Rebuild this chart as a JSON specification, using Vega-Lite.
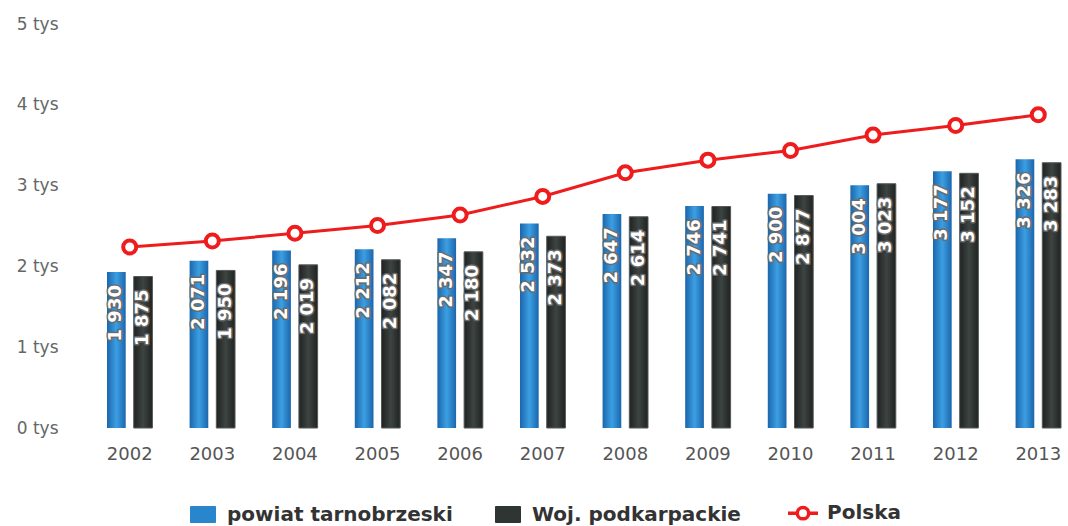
{
  "$schema": "https://vega.github.io/schema/vega-lite/v6.json",
  "width": 954,
  "height": 404,
  "autosize": {"type": "none"},
  "padding": {"left": 107, "top": 24, "right": 7, "bottom": 98},
  "background": "white",
  "config": {
    "view": {"stroke": null},
    "font": "DejaVu Sans",
    "locale": {"number": {"decimal": ",", "thousands": " ", "grouping": [3], "currency": ["", " zł"]}}
  },
  "data": {
    "values": [
      {"year": "2002", "series": "powiat tarnobrzeski", "value": 1930},
      {"year": "2003", "series": "powiat tarnobrzeski", "value": 2071},
      {"year": "2004", "series": "powiat tarnobrzeski", "value": 2196},
      {"year": "2005", "series": "powiat tarnobrzeski", "value": 2212},
      {"year": "2006", "series": "powiat tarnobrzeski", "value": 2347},
      {"year": "2007", "series": "powiat tarnobrzeski", "value": 2532},
      {"year": "2008", "series": "powiat tarnobrzeski", "value": 2647},
      {"year": "2009", "series": "powiat tarnobrzeski", "value": 2746},
      {"year": "2010", "series": "powiat tarnobrzeski", "value": 2900},
      {"year": "2011", "series": "powiat tarnobrzeski", "value": 3004},
      {"year": "2012", "series": "powiat tarnobrzeski", "value": 3177},
      {"year": "2013", "series": "powiat tarnobrzeski", "value": 3326},
      {"year": "2002", "series": "Woj. podkarpackie", "value": 1875},
      {"year": "2003", "series": "Woj. podkarpackie", "value": 1950},
      {"year": "2004", "series": "Woj. podkarpackie", "value": 2019},
      {"year": "2005", "series": "Woj. podkarpackie", "value": 2082},
      {"year": "2006", "series": "Woj. podkarpackie", "value": 2180},
      {"year": "2007", "series": "Woj. podkarpackie", "value": 2373},
      {"year": "2008", "series": "Woj. podkarpackie", "value": 2614},
      {"year": "2009", "series": "Woj. podkarpackie", "value": 2741},
      {"year": "2010", "series": "Woj. podkarpackie", "value": 2877},
      {"year": "2011", "series": "Woj. podkarpackie", "value": 3023},
      {"year": "2012", "series": "Woj. podkarpackie", "value": 3152},
      {"year": "2013", "series": "Woj. podkarpackie", "value": 3283},
      {"year": "2002", "series": "Polska", "value": 2240},
      {"year": "2003", "series": "Polska", "value": 2315},
      {"year": "2004", "series": "Polska", "value": 2410},
      {"year": "2005", "series": "Polska", "value": 2507},
      {"year": "2006", "series": "Polska", "value": 2637},
      {"year": "2007", "series": "Polska", "value": 2866},
      {"year": "2008", "series": "Polska", "value": 3158},
      {"year": "2009", "series": "Polska", "value": 3315},
      {"year": "2010", "series": "Polska", "value": 3435},
      {"year": "2011", "series": "Polska", "value": 3625},
      {"year": "2012", "series": "Polska", "value": 3744},
      {"year": "2013", "series": "Polska", "value": 3877}
    ]
  },
  "encoding": {
    "x": {
      "field": "year",
      "type": "ordinal",
      "scale": {"paddingInner": 0.45, "paddingOuter": 0},
      "axis": {
        "title": null,
        "labelAngle": 0,
        "domain": false,
        "ticks": false,
        "tickSize": 0,
        "grid": false,
        "labelPadding": 17,
        "labelFont": "DejaVu Sans",
        "labelFontSize": 18,
        "labelColor": "#555555"
      }
    },
    "y": {
      "field": "value",
      "type": "quantitative",
      "scale": {"domain": [0, 5000], "nice": false},
      "axis": {
        "title": null,
        "values": [0, 1000, 2000, 3000, 4000, 5000],
        "labelExpr": "(datum.value / 1000) + ' tys'",
        "domain": false,
        "ticks": false,
        "tickSize": 0,
        "grid": false,
        "labelPadding": 49,
        "labelFont": "DejaVu Sans",
        "labelFontSize": 17,
        "labelColor": "#666666"
      }
    }
  },
  "layer": [
    {
      "transform": [{"filter": "datum.series === 'powiat tarnobrzeski'"}],
      "mark": {
        "type": "bar",
        "color": {
          "gradient": "linear", "x1": 0, "y1": 0, "x2": 1, "y2": 0,
          "stops": [
            {"offset": 0, "color": "#1b66ad"},
            {"offset": 0.5, "color": "#3c9fe2"},
            {"offset": 1, "color": "#1b66ad"}
          ]
        }
      },
      "encoding": {
        "xOffset": {"field": "series", "type": "nominal", "scale": {"domain": ["powiat tarnobrzeski", "Woj. podkarpackie"], "paddingInner": 0.3}}
      }
    },
    {
      "transform": [{"filter": "datum.series === 'Woj. podkarpackie'"}],
      "mark": {
        "type": "bar",
        "stroke": "#555a58",
        "strokeWidth": 1,
        "color": {
          "gradient": "linear", "x1": 0, "y1": 0, "x2": 1, "y2": 0,
          "stops": [
            {"offset": 0, "color": "#1f2322"},
            {"offset": 0.5, "color": "#3d4442"},
            {"offset": 1, "color": "#1f2322"}
          ]
        }
      },
      "encoding": {
        "xOffset": {"field": "series", "type": "nominal"}
      }
    },
    {
      "transform": [{"filter": "datum.series !== 'Polska'"}],
      "mark": {
        "type": "text",
        "angle": 270,
        "align": "right",
        "baseline": "middle",
        "dx": -13,
        "font": "DejaVu Sans",
        "fontSize": 18,
        "fontWeight": "bold",
        "fill": "#ffffff",
        "stroke": "#6a6a6a",
        "strokeWidth": 3,
        "strokeJoin": "round"
      },
      "encoding": {
        "xOffset": {"field": "series", "type": "nominal"},
        "text": {"field": "value", "type": "quantitative", "format": ",d"}
      }
    },
    {
      "transform": [{"filter": "datum.series !== 'Polska'"}],
      "mark": {
        "type": "text",
        "angle": 270,
        "align": "right",
        "baseline": "middle",
        "dx": -13,
        "font": "DejaVu Sans",
        "fontSize": 18,
        "fontWeight": "bold",
        "fill": "#ffffff"
      },
      "encoding": {
        "xOffset": {"field": "series", "type": "nominal"},
        "text": {"field": "value", "type": "quantitative", "format": ",d"}
      }
    },
    {
      "transform": [{"filter": "datum.series === 'Polska'"}],
      "mark": {"type": "line", "strokeWidth": 3},
      "encoding": {
        "color": {
          "field": "series",
          "type": "nominal",
          "scale": {
            "domain": ["powiat tarnobrzeski", "Woj. podkarpackie", "Polska"],
            "range": ["#2a86cc", "#2f3533", "#ee1c1c"]
          },
          "legend": {
            "orient": "none",
            "legendX": 86,
            "legendY": 479,
            "direction": "horizontal",
            "title": null,
            "labelFont": "DejaVu Sans",
            "labelFontSize": 20,
            "labelFontWeight": "bold",
            "labelColor": "#333333",
            "labelLimit": 500,
            "labelOffset": 14,
            "columnPadding": 40,
            "symbolSize": 900,
            "encode": {
              "symbols": {
                "update": {
                  "shape": {"signal": "datum.value === 'Polska' ? 'M-1,0L-0.38,0M0.38,0L1,0M-0.38,0A0.38,0.38,0,1,0,0.38,0A0.38,0.38,0,1,0,-0.38,0' : 'M-1,-0.64L1,-0.64L1,0.64L-1,0.64Z'"},
                  "size": {"signal": "datum.value === 'Polska' ? 900 : 625"},
                  "fill": {"signal": "datum.value === 'Polska' ? '#ffffff' : (datum.value === 'powiat tarnobrzeski' ? '#2a86cc' : '#2f3533')"},
                  "stroke": {"signal": "datum.value === 'Polska' ? '#ee1c1c' : (datum.value === 'powiat tarnobrzeski' ? '#1f6fb0' : '#1f2322')"},
                  "strokeWidth": {"signal": "datum.value === 'Polska' ? 3.5 : 1"},
                  "opacity": {"value": 1},
                  "fillOpacity": {"value": 1}
                }
              }
            }
          }
        }
      }
    },
    {
      "transform": [{"filter": "datum.series === 'Polska'"}],
      "mark": {
        "type": "point",
        "shape": "circle",
        "filled": true,
        "fill": "#ffffff",
        "stroke": "#ee1c1c",
        "strokeWidth": 4,
        "size": 170,
        "opacity": 1
      }
    }
  ]
}
